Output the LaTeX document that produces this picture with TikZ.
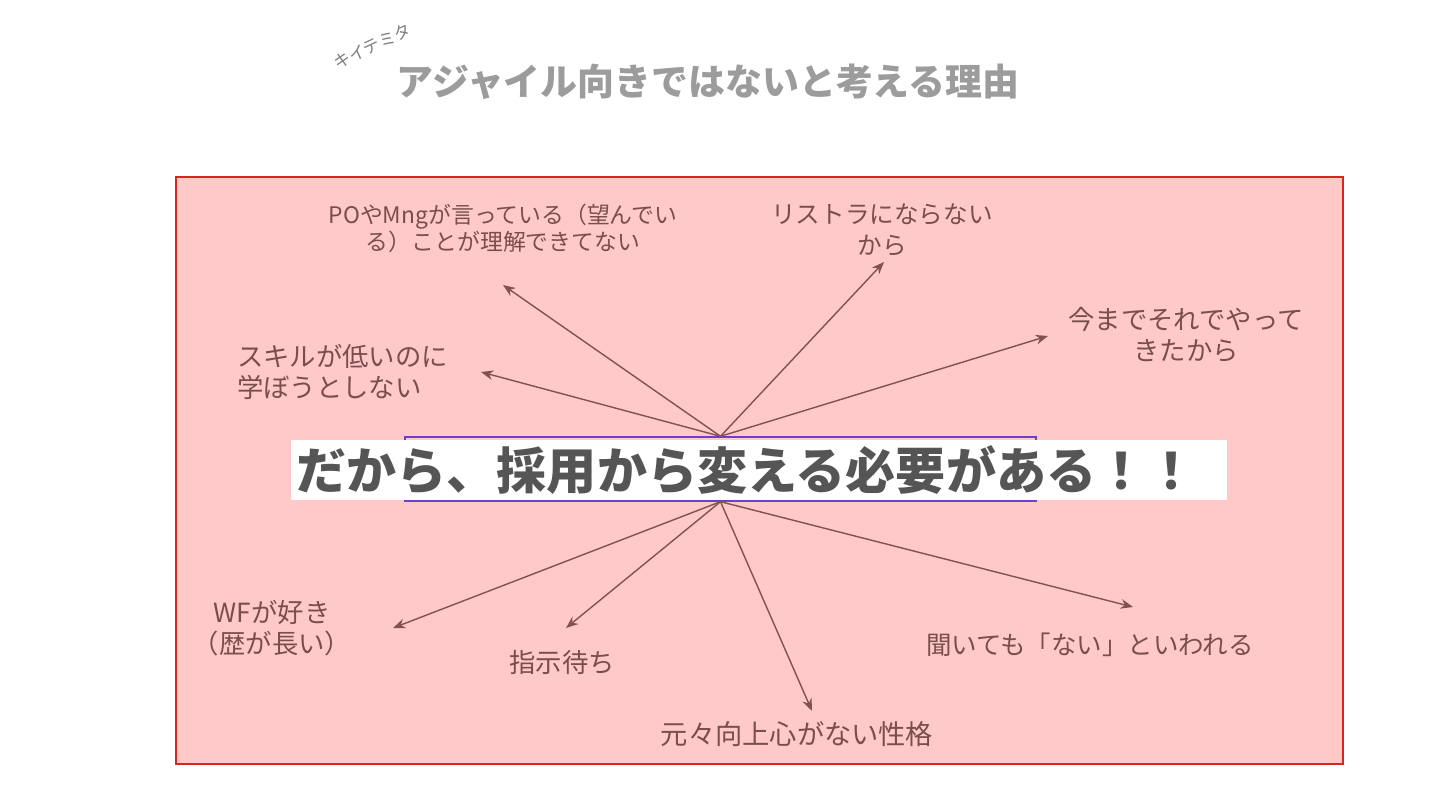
\documentclass[tikz,border=0pt]{standalone}
\usepackage{fontspec}
\usepackage{tikz}
\usetikzlibrary{arrows.meta}
\newfontfamily\jpfont{Noto Sans CJK JP}
\definecolor{boardpink}{HTML}{FFC9C9}
\definecolor{boardred}{HTML}{DD2222}
\definecolor{arrowbrown}{HTML}{845050}
\definecolor{labelbrown}{HTML}{7A4E4E}
\definecolor{hubpurple}{HTML}{6B3FD6}
\definecolor{titlegray}{HTML}{9C9C9C}
\definecolor{slogangray}{HTML}{555555}

\begin{document}
\begin{tikzpicture}[x=0.02cm,y=-0.02cm,
    reason/.style={font=\jpfont\fontsize{15}{17.5}\selectfont,text=labelbrown,align=center,inner sep=1pt},
    arr/.style={draw=arrowbrown,line width=0.8pt,-{Stealth[length=7pt,width=5.5pt]}}]
  \useasboundingbox (0,0) rectangle (1440,810);

  % board
  \draw[boardred,fill=boardpink,line width=1.1pt] (176,177) rectangle (1343,764);

  % title and memo
  \node[font=\jpfont\bfseries\fontsize{21}{24}\selectfont,text=titlegray] (title) at (708,82) {アジャイル向きではないと考える理由};
  \node[font=\jpfont\fontsize{9.5}{10}\selectfont,text=titlegray!80!black,rotate=25,inner sep=0pt] (memo) at (372,46) {キイテミタ};

  % hub box
  \node[draw=hubpurple,line width=0.8pt,minimum width=12.62cm,minimum height=1.28cm,inner sep=0pt] (hub) at (720.5,469) {};

  % reasons
  \node[reason,font=\jpfont\fontsize{13}{15.5}\selectfont] (po) at (503,228) {POやMngが言っている（望んでい\\る）ことが理解できてない};
  \node[reason,font=\jpfont\fontsize{14}{17.5}\selectfont] (rest) at (882,230) {リストラにならない\\から};
  \node[reason] (now) at (1186,335) {今までそれでやって\\きたから};
  \node[reason,align=left,anchor=west] (skill) at (235,372) {スキルが低いのに\\学ぼうとしない};
  \node[reason] (wf) at (272,628) {WFが好き\\（歴が長い）};
  \node[reason] (wait) at (562,662) {指示待ち};
  \node[reason,font=\jpfont\fontsize{15.5}{17.5}\selectfont] (nature) at (797,734) {元々向上心がない性格};
  \node[reason,font=\jpfont\fontsize{14.5}{17.5}\selectfont] (asked) at (1090,645) {聞いても「ない」といわれる};

  % arrow tips
  \coordinate (tip-po) at (503,285);
  \coordinate (tip-rest) at (884,262);
  \coordinate (tip-now) at (1048,336);
  \coordinate (tip-skill) at (481,372);
  \coordinate (tip-wf) at (393,628);
  \coordinate (tip-wait) at (566,628);
  \coordinate (tip-nature) at (812,711);
  \coordinate (tip-asked) at (1133,607);

  % arrows
  \foreach \t in {po,rest,now,skill} \draw[arr] (hub.north) -- (tip-\t);
  \foreach \t in {wf,wait,nature,asked} \draw[arr] (hub.south) -- (tip-\t);

  % slogan
  \node[fill=white,minimum width=18.72cm,minimum height=1.2cm,text width=18.5cm,align=left,inner sep=2pt,
    font=\jpfont\bfseries\fontsize{28.5}{30}\selectfont,text=slogangray] (slogan) at (759,470) {だから、採用から変える必要がある！！};
\end{tikzpicture}
\end{document}
